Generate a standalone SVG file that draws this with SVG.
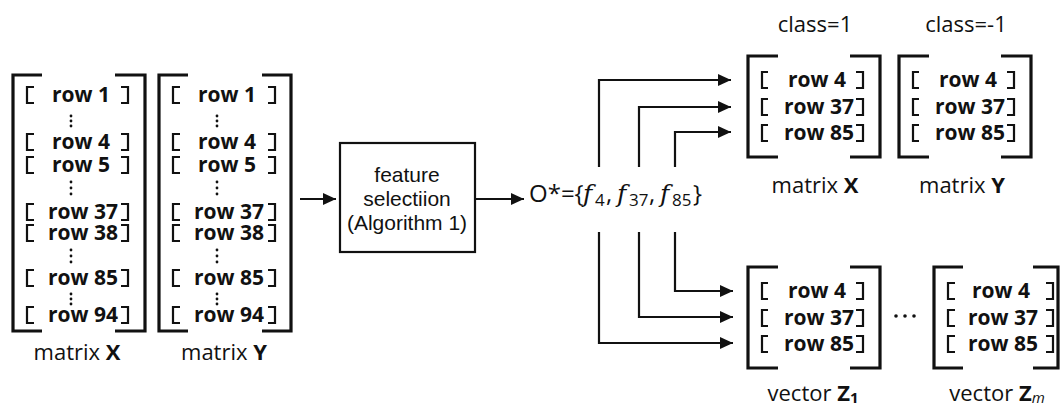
<svg xmlns="http://www.w3.org/2000/svg" width="1060" height="408" viewBox="0 0 1060 408">
<style>
.big{fill:none;stroke:#111;stroke-width:3.2}
.sm{fill:none;stroke:#111;stroke-width:2.2}
.row{font-family:"Open Sans",sans-serif;font-weight:bold;font-size:21px;text-anchor:middle;fill:#111}
.lbl{font-family:"Open Sans",sans-serif;font-size:22px;text-anchor:middle;fill:#111}
.b{font-weight:bold}
.box{fill:#fff;stroke:#111;stroke-width:2.2}
.bt{font-family:"Liberation Sans",Arial,sans-serif;font-size:21px;text-anchor:middle;fill:#111}
.con{fill:none;stroke:#111;stroke-width:2.2}
.dot{fill:#111}
.ot{font-family:"Open Sans",sans-serif;font-size:24px;fill:#111}
.fi{font-family:"DejaVu Serif",serif;font-style:italic;font-size:25px}
.sub{font-size:17px}
</style>
<defs>
<marker id="ah" markerUnits="userSpaceOnUse" markerWidth="14" markerHeight="12" refX="13" refY="6" orient="auto">
<path d="M0,0 L13,6 L0,12 z" fill="#111"/>
</marker>
</defs>

<g id="matrixX-left">
<path class="big" d="M42,75H13V331H42 M115,75H145V331H115"/>
<path class="sm" d="M34,87H27V103H34 M34,134H27V150H34 M34,157H27V173H34 M34,204H27V220H34 M34,225H27V241H34 M34,270H27V286H34 M34,307H27V323H34"/>
<path class="sm" d="M121,87H128V103H121 M121,134H128V150H121 M121,157H128V173H121 M121,204H128V220H121 M121,225H128V241H121 M121,270H128V286H121 M121,307H128V323H121"/>
<text class="row" x="81" y="102">row 1</text>
<text class="row" x="81" y="149">row 4</text>
<text class="row" x="81" y="172">row 5</text>
<text class="row" x="83" y="219">row 37</text>
<text class="row" x="83" y="240">row 38</text>
<text class="row" x="83" y="285">row 85</text>
<text class="row" x="83" y="322">row 94</text>
<g class="dot">
<circle cx="71" cy="116" r="1.4"/><circle cx="71" cy="121" r="1.4"/><circle cx="71" cy="126" r="1.4"/>
<circle cx="71" cy="182" r="1.4"/><circle cx="71" cy="188" r="1.4"/><circle cx="71" cy="194" r="1.4"/>
<circle cx="71" cy="250" r="1.4"/><circle cx="71" cy="256" r="1.4"/><circle cx="71" cy="262" r="1.4"/>
<circle cx="71" cy="294" r="1.4"/><circle cx="71" cy="299" r="1.4"/><circle cx="71" cy="304" r="1.4"/>
</g>
<text class="lbl" x="77" y="360">matrix <tspan class="b">X</tspan></text>
</g>

<g id="matrixY-left">
<path class="big" d="M188,75H159V331H188 M262,75H291V331H262"/>
<path class="sm" d="M180,87H173V103H180 M180,134H173V150H180 M180,157H173V173H180 M180,204H173V220H180 M180,225H173V241H180 M180,270H173V286H180 M180,307H173V323H180"/>
<path class="sm" d="M268,87H275V103H268 M268,134H275V150H268 M268,157H275V173H268 M268,204H275V220H268 M268,225H275V241H268 M268,270H275V286H268 M268,307H275V323H268"/>
<text class="row" x="227" y="102">row 1</text>
<text class="row" x="227" y="149">row 4</text>
<text class="row" x="227" y="172">row 5</text>
<text class="row" x="229" y="219">row 37</text>
<text class="row" x="229" y="240">row 38</text>
<text class="row" x="229" y="285">row 85</text>
<text class="row" x="229" y="322">row 94</text>
<g class="dot">
<circle cx="217" cy="116" r="1.4"/><circle cx="217" cy="121" r="1.4"/><circle cx="217" cy="126" r="1.4"/>
<circle cx="217" cy="182" r="1.4"/><circle cx="217" cy="188" r="1.4"/><circle cx="217" cy="194" r="1.4"/>
<circle cx="217" cy="250" r="1.4"/><circle cx="217" cy="256" r="1.4"/><circle cx="217" cy="262" r="1.4"/>
<circle cx="217" cy="294" r="1.4"/><circle cx="217" cy="299" r="1.4"/><circle cx="217" cy="304" r="1.4"/>
</g>
<text class="lbl" x="224" y="360">matrix <tspan class="b">Y</tspan></text>
</g>

<g id="feature-selection">
<rect class="box" x="340" y="143" width="135" height="109"/>
<text class="bt" x="407" y="182">feature</text>
<text class="bt" x="407" y="206">selectiion</text>
<text class="bt" x="407" y="230">(Algorithm 1)</text>
</g>

<g id="optimal-set">
<text class="ot" y="202"><tspan x="529">O*={</tspan><tspan class="fi" x="583">f</tspan><tspan class="sub" x="595" y="206">4</tspan><tspan x="606" y="202">,</tspan><tspan class="fi" x="617">f</tspan><tspan class="sub" x="629" y="206">37</tspan><tspan x="649" y="202">,</tspan><tspan class="fi" x="660">f</tspan><tspan class="sub" x="672" y="206">85</tspan><tspan x="693" y="202">}</tspan></text>
</g>

<g id="matrixX-class1">
<text class="lbl" x="815" y="32">class=1</text>
<path class="big" d="M778,56H748V157H778 M850,56H880V157H850"/>
<path class="sm" d="M768,72H762V88H768 M768,99H762V115H768 M768,125H762V141H768 M856,72H863V88H856 M856,99H863V115H856 M856,125H863V141H856"/>
<text class="row" x="817" y="87">row 4</text>
<text class="row" x="819" y="114">row 37</text>
<text class="row" x="819" y="140">row 85</text>
<text class="lbl" x="815" y="193">matrix <tspan class="b">X</tspan></text>
</g>

<g id="matrixY-class-1">
<text class="lbl" x="966" y="32">class=-1</text>
<path class="big" d="M929,56H899V157H929 M1001,56H1031V157H1001"/>
<path class="sm" d="M919,72H913V88H919 M919,99H913V115H919 M919,125H913V141H919 M1007,72H1014V88H1007 M1007,99H1014V115H1007 M1007,125H1014V141H1007"/>
<text class="row" x="968" y="87">row 4</text>
<text class="row" x="970" y="114">row 37</text>
<text class="row" x="970" y="140">row 85</text>
<text class="lbl" x="962" y="193">matrix <tspan class="b">Y</tspan></text>
</g>

<g id="vectorZ1">
<path class="big" d="M778,267H748V368H778 M850,267H880V368H850"/>
<path class="sm" d="M768,283H762V299H768 M768,310H762V326H768 M768,336H762V352H768 M856,283H863V299H856 M856,310H863V326H856 M856,336H863V352H856"/>
<text class="row" x="817" y="298">row 4</text>
<text class="row" x="819" y="325">row 37</text>
<text class="row" x="819" y="351">row 85</text>
<text class="lbl" x="813" y="401">vector <tspan class="b">Z</tspan><tspan class="b" font-size="15" dy="2">1</tspan></text>
</g>

<g id="ellipsis" class="dot">
<circle cx="896" cy="316" r="1.8"/><circle cx="905" cy="316" r="1.8"/><circle cx="914" cy="316" r="1.8"/>
</g>

<g id="vectorZm">
<path class="big" d="M963,267H934V368H963 M1033,267H1058V368H1033"/>
<path class="sm" d="M955,283H948V299H955 M955,310H948V326H955 M955,336H948V352H955 M1046,283H1053V299H1046 M1046,310H1053V326H1046 M1046,336H1053V352H1046"/>
<text class="row" x="1001" y="298">row 4</text>
<text class="row" x="1003" y="325">row 37</text>
<text class="row" x="1003" y="351">row 85</text>
<text class="lbl" x="997" y="401">vector <tspan class="b">Z</tspan><tspan font-style="italic" font-size="15" dy="2">m</tspan></text>
</g>

<g id="connectors">
<path class="con" d="M300,199H336" marker-end="url(#ah)"/>
<path class="con" d="M476,199H524" marker-end="url(#ah)"/>
<path class="con" d="M599,167V80H731" marker-end="url(#ah)"/>
<path class="con" d="M639,167V107H731" marker-end="url(#ah)"/>
<path class="con" d="M675,167V132H731" marker-end="url(#ah)"/>
<path class="con" d="M675,232V291H733" marker-end="url(#ah)"/>
<path class="con" d="M639,232V317H733" marker-end="url(#ah)"/>
<path class="con" d="M599,232V343H733" marker-end="url(#ah)"/>
</g>
</svg>
